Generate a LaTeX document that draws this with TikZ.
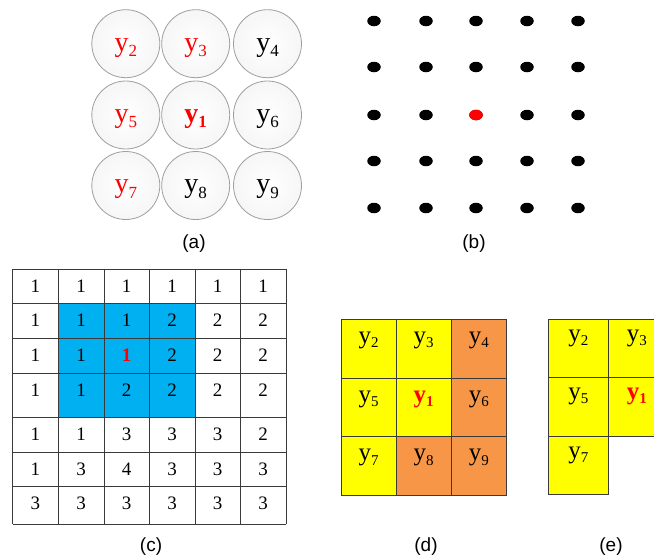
\documentclass[tikz,border=0pt]{standalone}
\usepackage{fontspec}
\setmainfont{Liberation Serif}
\newfontfamily\labfont{Liberation Sans}
\usetikzlibrary{shapes.geometric}
\definecolor{cblue}{HTML}{00B0F0}
\definecolor{cyel}{HTML}{FFFF00}
\definecolor{corg}{HTML}{F79646}
\definecolor{cred}{HTML}{FF0000}
\definecolor{gline}{HTML}{3A3A3A}
% circle labels (a)
\newcommand\ya[1]{{\fontsize{28}{28}\selectfont y}\raisebox{-5.5pt}{\fontsize{17}{17}\selectfont #1}}
\newcommand\yab[1]{{\fontsize{28}{28}\selectfont\bfseries y}\raisebox{-5.5pt}{\fontsize{17}{17}\selectfont\bfseries #1}}
% grid labels (d),(e)
\newcommand\yd[1]{{\fontsize{25}{25}\selectfont y}\raisebox{-4.5pt}{\fontsize{15}{15}\selectfont #1}}
\newcommand\ydb[1]{{\fontsize{25}{25}\selectfont\bfseries y}\raisebox{-4.5pt}{\fontsize{15}{15}\selectfont\bfseries #1}}
\newcommand\rone{\textcolor{cred}{\bfseries 1}}
\begin{document}
\begin{tikzpicture}[x=1pt,y=-1pt,
  circ/.style={circle,draw=gray!75,line width=0.8pt,minimum size=68pt,inner sep=0pt,
    inner color=white,outer color=gray!7},
  dotb/.style={ellipse,fill=black,minimum width=13.5pt,minimum height=10.5pt,inner sep=0pt},
  dotr/.style={dotb,fill=cred},
  num/.style={inner sep=0pt,font=\fontsize{19}{19}\selectfont},
  cell/.style={rectangle,draw=gline,line width=0.9pt,inner sep=0pt,outer sep=0pt,anchor=north west},
  ytxt/.style={inner sep=0pt},
  captxt/.style={font=\labfont\fontsize{19}{19}\selectfont,inner sep=0pt}]
\clip[use as bounding box] (0,0) rectangle (654,560);
\fill[white] (0,0) rectangle (654,560);

% ---------- (a) ----------
\foreach \n/\x/\y in {2/125.8/43.7,3/195.7/43.7,4/267.5/43.7,
                      5/125.8/115,1/195.7/115,6/267.5/115,
                      7/125.8/185.5,8/195.7/185.5,9/267.5/185.5}
  \node[circ] (c\n) at (\x,\y) {};
\node[ytxt,text=cred] (a2) at ([yshift=-4pt]c2.center) {\ya{2}};
\node[ytxt,text=cred] (a3) at ([yshift=-4pt]c3.center) {\ya{3}};
\node[ytxt] (a4) at ([yshift=-4pt]c4.center) {\ya{4}};
\node[ytxt,text=cred] (a5) at ([yshift=-4pt]c5.center) {\ya{5}};
\node[ytxt,text=cred] (a1) at ([yshift=-4pt]c1.center) {\yab{1}};
\node[ytxt] (a6) at ([yshift=-4pt]c6.center) {\ya{6}};
\node[ytxt,text=cred] (a7) at ([yshift=-4pt]c7.center) {\ya{7}};
\node[ytxt] (a8) at ([yshift=-4pt]c8.center) {\ya{8}};
\node[ytxt] (a9) at ([yshift=-4pt]c9.center) {\ya{9}};
\node[captxt] (capa) at (194,244) {(a)};

% ---------- (b) ----------
\foreach \x [count=\i] in {374,426,476,527,578}
  \foreach \y [count=\j] in {21,67,115,161,208}
    \node[dotb] (b\i\j) at (\x,\y) {};
\node[dotr] (bc) at (476,115) {};
\node[captxt] (capb) at (474,244) {(b)};

% ---------- (c) ----------
\fill[cblue] (58.7,303.3) rectangle (195,417.3);
\foreach \y in {269,303.3,338.7,373.3,417.3,452.7,486.7,524.3}
  \draw[gline,line width=0.8pt] (12.7,\y) -- (286,\y);
\foreach \x in {12.7,58.7,104.3,149.7,195,240.3,286}
  \draw[gline,line width=0.8pt] (\x,269) -- (\x,524.3);
\foreach \r/\t/\vals in {1/269/{1,1,1,1,1,1},
                         2/303.3/{1,1,1,2,2,2},
                         3/338.7/{1,1,\rone,2,2,2},
                         4/373.3/{1,1,2,2,2,2},
                         5/417.3/{1,1,3,3,3,2},
                         6/452.7/{1,3,4,3,3,3},
                         7/486.7/{3,3,3,3,3,3}}
  \foreach \v [count=\c] in \vals
    \node[num] (t\r\c) at ({12.7+45.55*(\c-0.5)},{\t+17}) {\v};
\node[captxt] (capc) at (151,547) {(c)};

% ---------- (d) ----------
\node[cell,fill=cyel,minimum width=55pt,minimum height=59pt] (d2) at (341,319.3) {};
\node[cell,fill=cyel,minimum width=55pt,minimum height=59pt] (d3) at (396,319.3) {};
\node[cell,fill=corg,minimum width=55.7pt,minimum height=59pt] (d4) at (451,319.3) {};
\node[cell,fill=cyel,minimum width=55pt,minimum height=58.4pt] (d5) at (341,378.3) {};
\node[cell,fill=cyel,minimum width=55pt,minimum height=58.4pt] (d1) at (396,378.3) {};
\node[cell,fill=corg,minimum width=55.7pt,minimum height=58.4pt] (d6) at (451,378.3) {};
\node[cell,fill=cyel,minimum width=55pt,minimum height=58.3pt] (d7) at (341,436.7) {};
\node[cell,fill=corg,minimum width=55pt,minimum height=58.3pt] (d8) at (396,436.7) {};
\node[cell,fill=corg,minimum width=55.7pt,minimum height=58.3pt] (d9) at (451,436.7) {};
\foreach \n in {2,3,4,5,6,7,8,9}
  \node[ytxt] (dt\n) at ([yshift=-21pt]d\n.north) {\yd{\n}};
\node[ytxt,text=cred] (dt1) at ([yshift=-21pt]d1.north) {\ydb{1}};
\node[captxt] (capd) at (426,547) {(d)};

% ---------- (e) ----------
\node[cell,fill=cyel,minimum width=60pt,minimum height=58.3pt] (e2) at (548.3,319) {};
\node[cell,fill=cyel,minimum width=57pt,minimum height=58.3pt] (e3) at (608.3,319) {};
\node[cell,fill=cyel,minimum width=60pt,minimum height=58.7pt] (e5) at (548.3,377.3) {};
\node[cell,fill=cyel,minimum width=57pt,minimum height=58.7pt] (e1) at (608.3,377.3) {};
\node[cell,fill=cyel,minimum width=60pt,minimum height=58pt] (e7) at (548.3,436) {};
\foreach \n in {2,3,5,7}
  \node[ytxt] (et\n) at ([yshift=-19pt]e\n.north) {\yd{\n}};
\node[ytxt,text=cred] (et1) at ([yshift=-19pt]e1.north) {\ydb{1}};
\node[captxt] (cape) at (611,547) {(e)};
\end{tikzpicture}
\end{document}
